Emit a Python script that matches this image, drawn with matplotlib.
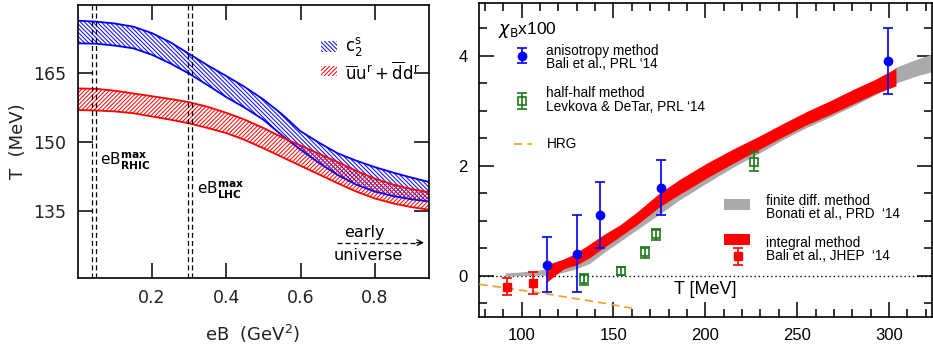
import matplotlib
matplotlib.use('Agg')
import matplotlib.pyplot as plt
from matplotlib.patches import Rectangle
from matplotlib.ticker import MultipleLocator

# left panel: transition temperature vs eB (band edges)
eb = [0.0, 0.05, 0.1, 0.15, 0.2, 0.25, 0.3, 0.35, 0.4, 0.45,
      0.5, 0.55, 0.6, 0.65, 0.7, 0.75, 0.8, 0.85, 0.9, 0.95]
c2s_hi = [176.3, 176.1, 175.7, 175.0, 173.6, 171.6, 169.1, 166.6, 164.3, 161.9,
          159.2, 156.0, 152.3, 149.8, 147.5, 145.9, 144.5, 143.3, 142.2, 141.2]
c2s_lo = [171.4, 171.3, 170.9, 170.3, 168.9, 167.0, 164.8, 162.3, 159.7, 157.4,
          154.8, 151.4, 148.3, 145.4, 142.8, 140.7, 139.2, 138.2, 137.5, 137.0]
cond_hi = [161.6, 161.5, 161.1, 160.5, 159.9, 159.3, 158.6, 157.6, 156.3, 154.8,
           153.0, 151.0, 149.2, 147.4, 145.6, 143.7, 142.0, 140.7, 139.7, 139.0]
cond_lo = [156.9, 156.8, 156.6, 156.2, 155.5, 154.8, 154.0, 153.0, 151.9, 150.4,
           148.6, 146.7, 144.8, 142.9, 141.0, 139.2, 137.7, 136.6, 135.8, 135.2]
eb_rhic = [0.039, 0.049]
eb_lhc = [0.298, 0.308]

# right panel: chi_B x100 vs T
aniso_T = [113.6, 130.4, 142.4, 176.1, 299.6]
aniso_chi = [0.2, 0.4, 1.1, 1.6, 3.9]
aniso_err = [0.5, 0.7, 0.6, 0.5, 0.6]

half_T = [134, 154, 167.2, 173.2, 226.6]
half_chi = [-0.06, 0.08, 0.43, 0.75, 2.07]
half_err = [0.1, 0.07, 0.1, 0.1, 0.17]

integ_T = [92, 106.3]
integ_chi = [-0.2, -0.13]
integ_err = [0.15, 0.2]

integ_band_T = [113.6, 118, 122.6, 126, 129.9, 137.1, 144.3, 153.4, 162.5, 175,
                186, 200.5, 215, 229.5, 242, 254.9, 268, 280.2, 292, 303.8]
integ_band_hi = [0.195, 0.25, 0.30, 0.35, 0.42, 0.576, 0.74, 0.92, 1.15, 1.50,
                 1.75, 2.04, 2.30, 2.54, 2.76, 2.98, 3.18, 3.38, 3.56, 3.77]
integ_band_lo = [-0.12, 0.0, 0.12, 0.16, 0.195, 0.33, 0.50, 0.71, 0.92, 1.25,
                 1.48, 1.77, 2.04, 2.30, 2.52, 2.74, 2.93, 3.12, 3.30, 3.45]

fd_T = [91, 100, 113.6, 122.6, 129.9, 137.1, 144.3, 153.4, 162.5, 175, 186,
        200.5, 215, 229.5, 242, 254.9, 268, 280.2, 292, 303.8, 314, 323.5]
fd_lo = [-0.005, 0.0, 0.01, 0.06, 0.13, 0.225, 0.41, 0.62, 0.83, 1.12, 1.38,
         1.68, 1.97, 2.23, 2.47, 2.69, 2.89, 3.08, 3.28, 3.50, 3.62, 3.71]
fd_hi = [0.05, 0.07, 0.12, 0.2, 0.32, 0.45, 0.62, 0.82, 1.03, 1.35, 1.62,
         1.92, 2.2, 2.46, 2.68, 2.9, 3.1, 3.3, 3.5, 3.79, 3.92, 4.03]

hrg_T = [77, 95, 113.6, 130, 145, 160]
hrg_chi = [-0.155, -0.24, -0.33, -0.42, -0.50, -0.59]

blue = '#0000ff'
red = '#ff0000'
green = '#1a7a1a'
grey = '#aaaaaa'
orange = '#f5a020'
hatch_b = '\\' * 8
hatch_r = '/' * 8

plt.rcParams['font.family'] = 'DejaVu Sans'
plt.rcParams['hatch.linewidth'] = 0.7

fig = plt.figure(figsize=(9.33, 3.45), dpi=100)

# ---------------- left panel
ax1 = fig.add_axes([0.0833, 0.194, 0.3765, 0.7913])
ax1.fill_between(eb, c2s_lo, c2s_hi, facecolor='none', edgecolor=blue,
                 hatch=hatch_b, linewidth=0)
ax1.plot(eb, c2s_hi, color=blue, lw=1.3)
ax1.plot(eb, c2s_lo, color=blue, lw=1.3)
ax1.fill_between(eb, cond_lo, cond_hi, facecolor='none', edgecolor=red,
                 hatch=hatch_r, linewidth=0)
ax1.plot(eb, cond_hi, color=red, lw=1.3)
ax1.plot(eb, cond_lo, color=red, lw=1.3)

for x in eb_rhic + eb_lhc:
    ax1.axvline(x, color='black', lw=0.9, ls=(0, (4, 2.5)))

ax1.text(0.06, 145.7, r'eB$^{\mathbf{max}}_{\mathbf{RHIC}}$', fontsize=11, va='center')
ax1.text(0.32, 139.5, r'eB$^{\mathbf{max}}_{\mathbf{LHC}}$', fontsize=11, va='center')
ax1.text(0.771, 130.4, 'early', fontsize=11.5, ha='center', va='center')
ax1.text(0.782, 125.4, 'universe', fontsize=11.5, ha='center', va='center')
ax1.plot([0.697, 0.92], [128.1, 128.1], color='black', lw=0.9, ls=(0, (4, 2.5)))
ax1.annotate('', xy=(0.94, 128.1), xytext=(0.905, 128.1),
             arrowprops=dict(arrowstyle='->', color='black', lw=0.9))

# legend
ax1.add_patch(Rectangle((0.692, 0.829), 0.047, 0.040, transform=ax1.transAxes,
                        facecolor='none', edgecolor=blue, hatch=hatch_b, lw=0))
ax1.add_patch(Rectangle((0.692, 0.741), 0.047, 0.037, transform=ax1.transAxes,
                        facecolor='none', edgecolor=red, hatch=hatch_r, lw=0))
ax1.text(0.761, 0.85, r'c$_2^{\mathrm{s}}$', transform=ax1.transAxes, fontsize=12, va='center')
ax1.text(0.761, 0.753,
         r'$\overline{\mathrm{u}}\mathrm{u}^{\mathrm{r}}+\overline{\mathrm{d}}\mathrm{d}^{\mathrm{r}}$',
         transform=ax1.transAxes, fontsize=12, va='center')

ax1.set_xlim(0, 0.946)
ax1.set_ylim(120.4, 179.7)
ax1.set_xticks([0.2, 0.4, 0.6, 0.8])
ax1.set_yticks([135, 150, 165])
ax1.tick_params(direction='in', length=11, width=1.1, top=True, right=True,
                labelsize=12.5, pad=8, labelcolor='#222222')
for s in ax1.spines.values():
    s.set_linewidth(1.2)
ax1.text(0.499, -0.165, r'eB  (GeV$^2$)', transform=ax1.transAxes, fontsize=13,
         ha='center', va='top', color='#222222')
ax1.text(-0.17, 0.5, 'T  (MeV)', transform=ax1.transAxes, fontsize=13,
         ha='center', va='center', rotation=90, color='#222222')

# ---------------- right panel
hv = 'Liberation Sans'
ax2 = fig.add_axes([0.5134, 0.082, 0.4855, 0.910])
ax2.axhline(0, color='black', lw=1, ls=(0, (1, 2)), zorder=1)
ax2.fill_between(fd_T, fd_lo, fd_hi, color=grey, lw=0, zorder=2)
ax2.fill_between(integ_band_T, integ_band_lo, integ_band_hi, color=red, lw=0, zorder=3)
ax2.plot(hrg_T, hrg_chi, color=orange, lw=1.2, ls=(0, (5, 3)), zorder=3)

ax2.errorbar(aniso_T, aniso_chi, yerr=aniso_err, fmt='o', color=blue, ms=6,
             capsize=3.3, elinewidth=1.2, capthick=1.2, zorder=5)
ax2.errorbar(half_T, half_chi, yerr=half_err, fmt='s', color=green, mfc='none',
             ms=6, mew=1.2, capsize=3.3, elinewidth=1.2, capthick=1.2, zorder=5)
ax2.errorbar(integ_T, integ_chi, yerr=integ_err, fmt='s', color=red, ms=6,
             capsize=3.3, elinewidth=1.2, capthick=1.2, zorder=5)

# legend, laid out in axes fractions
tA = ax2.transAxes
ax2.errorbar([0.094], [0.832], yerr=[0.0245], fmt='o', color=blue, ms=6, capsize=3.3,
             elinewidth=1.2, capthick=1.2, transform=tA)
ax2.errorbar([0.094], [0.688], yerr=[0.026], fmt='s', color=green, mfc='none', ms=6,
             mew=1.2, capsize=3.3, elinewidth=1.2, capthick=1.2, transform=tA)
ax2.plot([0.077, 0.116], [0.5495, 0.5495], color=orange, lw=1.2, ls=(0, (5, 3)), transform=tA)
ax2.add_patch(Rectangle((0.540, 0.339), 0.059, 0.035, transform=tA, color=grey, lw=0))
ax2.add_patch(Rectangle((0.540, 0.229), 0.059, 0.033, transform=tA, color=red, lw=0))
ax2.errorbar([0.572], [0.192], yerr=[0.028], fmt='s', color=red, ms=6, capsize=3.3,
             elinewidth=1.2, capthick=1.2, transform=tA)

fs = 9.8
ax2.text(0.149, 0.8475, 'anisotropy method', transform=tA, fontsize=fs, family=hv, va='center')
ax2.text(0.149, 0.8037, 'Bali et al., PRL \u201814', transform=tA, fontsize=fs, family=hv, va='center')
ax2.text(0.149, 0.712, 'half-half method', transform=tA, fontsize=fs, family=hv, va='center')
ax2.text(0.149, 0.6675, 'Levkova & DeTar, PRL \u201814', transform=tA, fontsize=fs, family=hv, va='center')
ax2.text(0.149, 0.5495, 'HRG', transform=tA, fontsize=fs, family=hv, va='center')
ax2.text(0.633, 0.369, 'finite diff. method', transform=tA, fontsize=fs, family=hv, va='center')
ax2.text(0.633, 0.327, 'Bonati et al., PRD  \u201814', transform=tA, fontsize=fs, family=hv, va='center')
ax2.text(0.633, 0.2357, 'integral method', transform=tA, fontsize=fs, family=hv, va='center')
ax2.text(0.633, 0.192, 'Bali et al., JHEP  \u201814', transform=tA, fontsize=fs, family=hv, va='center')

ax2.text(0.043, 0.914, r'$\chi_{\mathrm{B}}$x100', transform=tA, fontsize=12.5, family=hv, va='center')
ax2.text(0.5, 0.0868, 'T [MeV]', transform=tA, fontsize=13, family=hv, ha='center', va='center')

ax2.set_xlim(76.8, 323.4)
ax2.set_ylim(-0.745, 4.96)
ax2.xaxis.set_major_locator(MultipleLocator(50))
ax2.xaxis.set_minor_locator(MultipleLocator(10))
ax2.yaxis.set_major_locator(MultipleLocator(2))
ax2.yaxis.set_minor_locator(MultipleLocator(0.5))
ax2.tick_params(which='major', direction='in', length=11, width=1.1, top=True,
                right=True, labelsize=12, pad=8)
ax2.tick_params(which='minor', direction='in', length=6, width=1.1, top=True, right=True)
for lab in ax2.get_xticklabels() + ax2.get_yticklabels():
    lab.set_family(hv)
for s in ax2.spines.values():
    s.set_linewidth(1.2)

fig.savefig('out.png', dpi=100)
